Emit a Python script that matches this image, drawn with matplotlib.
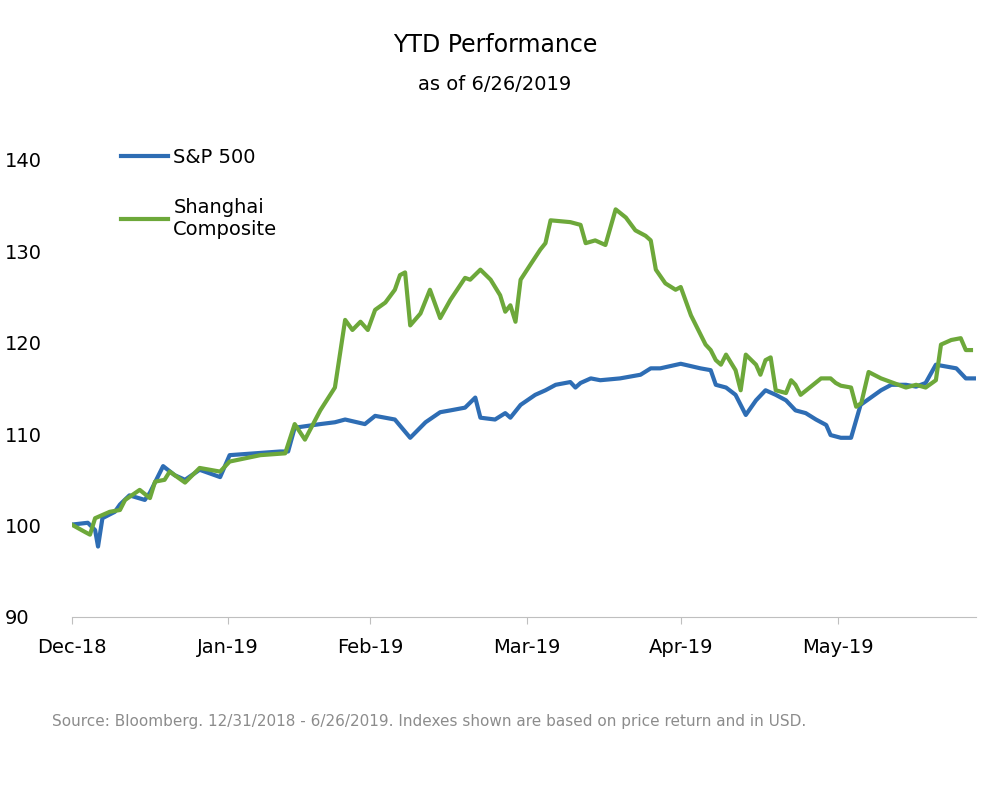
import matplotlib
matplotlib.use("Agg")
import matplotlib.pyplot as plt

sp_x = [0,1.1,2.2,3.2,3.6,4.2,5.9,6.6,7.9,10,10.7,12.5,14.1,15.5,17.5,20.3,21.6,28.5,29.6,30.5,34,36,37.4,40.1,41.5,44.2,46.3,48.4,50.4,51.8,53.8,55.2,55.9,57.9,59.3,60,61.4,63.4,64.8,66.2,68.2,68.9,69.6,71,72.3,75,77.8,79.2,80.5,83.3,86,87.4,88.1,89.5,90.8,92.2,93.6,94.9,96.3,97.7,99,100.4,101.8,103.2,103.8,105.2,106.6,107.9,109.3,110.7,112.1,114.1,115.5,116.8,118.2,119.6,121,122.3,123.7]
sp_v = [100.1,100.2,100.3,99.5,97.7,100.8,101.5,102.3,103.3,102.8,103.6,106.5,105.5,105.0,106.1,105.3,107.7,108.1,108.1,110.7,111.1,111.3,111.6,111.1,112.0,111.6,109.6,111.3,112.4,112.6,112.9,114.0,111.8,111.6,112.3,111.8,113.2,114.3,114.8,115.4,115.7,115.1,115.6,116.1,115.9,116.1,116.5,117.2,117.2,117.7,117.2,117.0,115.4,115.1,114.3,112.1,113.7,114.8,114.3,113.7,112.6,112.3,111.6,111.0,109.9,109.6,109.6,113.2,114.0,114.8,115.4,115.4,115.2,115.6,117.6,117.4,117.2,116.1,116.1]

sh_x = [0,1.8,2.5,3.2,5.2,6.6,7.3,9.3,10.7,11.4,12.7,13.4,15.5,17.5,20.3,21.6,25.8,29.2,30.5,31.9,34,36,37.4,38.4,39.5,40.5,41.5,42.9,44.2,44.9,45.6,46.3,47.7,49,50.4,51.8,53.8,54.5,55.9,57.3,58.6,59.3,60,60.7,61.4,62.7,64.1,64.8,65.5,68.2,69.6,70.3,71.6,73,74.4,75.8,77.1,78.5,79.2,79.9,81.2,82.6,83.3,84.7,86.7,87.4,88.1,88.8,89.5,90.8,91.5,92.2,93.6,94.2,94.9,95.6,96.3,97.7,98.4,99,99.7,102.5,103.8,104.5,105.2,106.6,107.3,108.0,109.0,110.7,114.1,115.5,116.8,118.2,118.9,120.3,121.6,122.3,123.0]
sh_v = [100.1,99.3,99.0,100.8,101.5,101.7,102.8,103.9,103.0,104.8,105.0,105.9,104.7,106.3,105.9,107.0,107.7,107.9,111.1,109.4,112.6,115.1,122.5,121.4,122.3,121.4,123.6,124.4,125.8,127.4,127.7,121.9,123.2,125.8,122.7,124.7,127.1,126.9,128.0,126.9,125.2,123.4,124.1,122.3,126.9,128.5,130.2,130.9,133.4,133.2,132.9,130.9,131.2,130.7,134.6,133.7,132.3,131.7,131.2,128.0,126.5,125.8,126.1,123.0,119.8,119.2,118.1,117.6,118.7,117.0,114.8,118.7,117.6,116.5,118.1,118.4,114.8,114.5,115.9,115.4,114.3,116.1,116.1,115.6,115.3,115.1,113.0,113.4,116.8,116.1,115.1,115.4,115.1,115.9,119.8,120.3,120.5,119.2,119.2]

tick_pos = [0, 21.4, 40.8, 62.3, 83.3, 104.8]
tick_labels = ["Dec-18", "Jan-19", "Feb-19", "Mar-19", "Apr-19", "May-19"]
y_ticks = [90, 100, 110, 120, 130, 140]

plt.rcParams['font.family'] = ['DejaVu Sans']
fig = plt.figure(figsize=(9.96, 7.96), dpi=100)
ax = fig.add_axes([0.072, 0.225, 0.908, 0.574])
ax.plot(sp_x, sp_v, color='#2E6DB4', lw=3, label='S&P 500')
ax.plot(sh_x, sh_v, color='#6DA83A', lw=3, label='Shanghai\nComposite')
ax.set_xlim(0, 123.7)
ax.set_ylim(90, 140)
ax.set_yticks(y_ticks)
ax.set_xticks(tick_pos)
ax.set_xticklabels(tick_labels)
for s in ['top', 'right', 'left']:
    ax.spines[s].set_visible(False)
ax.spines['bottom'].set_color('#BFBFBF')
ax.tick_params(axis='y', length=0, labelsize=14, pad=48)
ax.tick_params(axis='x', length=5, color='#BFBFBF', labelsize=14, pad=10)
for lab in ax.get_yticklabels():
    lab.set_horizontalalignment('left')
ax.legend(loc='upper left', bbox_to_anchor=(0.035, 1.065), frameon=False, fontsize=14,
          handlelength=2.4, handletextpad=0.3, labelspacing=1.6)
fig.text(0.497, 0.935, "YTD Performance", ha='center', fontsize=17)
fig.text(0.497, 0.887, "as of 6/26/2019", ha='center', fontsize=14)
fig.text(0.052, 0.088, "Source: Bloomberg. 12/31/2018 - 6/26/2019. Indexes shown are based on price return and in USD.",
         fontsize=11, color='#8C8C8C')
fig.savefig("out.png", dpi=100)
